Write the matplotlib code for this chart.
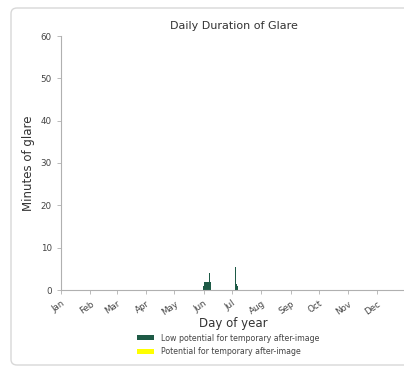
import matplotlib
matplotlib.use("Agg")
import matplotlib.pyplot as plt
from matplotlib.patches import FancyBboxPatch, Patch

# Data
months = ["Jan", "Feb", "Mar", "Apr", "May", "Jun", "Jul", "Aug", "Sep", "Oct", "Nov", "Dec"]
month_start_days = [1, 32, 60, 91, 121, 152, 182, 213, 244, 274, 305, 335]
low_days = [152, 153, 154, 155, 156, 157, 158, 159, 186, 187, 188]
low_minutes = [1, 2, 2, 2, 2, 2, 4, 2, 5.5, 1.5, 1]
pot_days = []
pot_minutes = []
legend_labels = ["Low potential for temporary after-image", "Potential for temporary after-image"]

low_color = "#1e5a46"
pot_color = "#ffff00"

fig = plt.figure(figsize=(4.04, 3.74), dpi=100)
fig.patch.set_facecolor("white")

card = FancyBboxPatch((11/404, 9/374), 400/404, 357/374,
                      boxstyle="round,pad=0,rounding_size=0.015",
                      transform=fig.transFigure, facecolor="white",
                      edgecolor="#d8d8d8", linewidth=1.0, zorder=-10)
fig.patches.append(card)

ax = fig.add_axes([61/404, 1 - 290/374, 345/404, (290 - 36)/374])
ax.set_zorder(5)
ax.set_facecolor("none")
ax.bar(low_days, low_minutes, width=1.0, color=low_color, align="center", linewidth=0)
if pot_days:
    ax.bar(pot_days, pot_minutes, width=1.0, color=pot_color, linewidth=0)

ax.set_xlim(1, 366)
ax.set_ylim(0, 60)
ax.set_yticks([0, 10, 20, 30, 40, 50, 60])
ax.set_xticks(month_start_days)
ax.set_xticklabels(months, rotation=35, ha="right", rotation_mode="anchor")
for s in ["top", "right"]:
    ax.spines[s].set_visible(False)
for s in ["left", "bottom"]:
    ax.spines[s].set_color("#b0b0b0")
    ax.spines[s].set_linewidth(0.8)
ax.tick_params(axis="both", colors="#b0b0b0", labelcolor="#444444", labelsize=6.3, length=3, width=0.6)

ax.set_title("Daily Duration of Glare", fontsize=8, color="#333333", pad=5)
ax.set_ylabel("Minutes of glare", fontsize=8.5, color="#333333", labelpad=4)
ax.set_xlabel("Day of year", fontsize=8.5, color="#333333", labelpad=0)

handles = [Patch(facecolor=low_color, edgecolor="none"), Patch(facecolor=pot_color, edgecolor="none")]
leg = fig.legend(handles, legend_labels, loc="center", bbox_to_anchor=(228/404, 1 - 345/374),
                 frameon=False, fontsize=5.7, handlelength=2.2, handleheight=0.6, labelspacing=0.6,
                 labelcolor="#444444")
leg.set_zorder(6)

fig.savefig("out.png", dpi=100, facecolor="white")
